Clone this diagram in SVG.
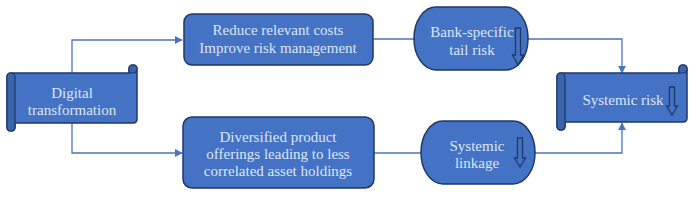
<svg xmlns="http://www.w3.org/2000/svg" width="700" height="200" viewBox="0 0 700 200">
<style>
.shape{fill:#4472C4;stroke:#203864;stroke-width:1.5;stroke-linejoin:round}
.roll{fill:#3b64ad;stroke:#203864;stroke-width:1.2}
.txt{font-family:"Liberation Serif","Times New Roman",serif;font-size:15px;fill:#dde7f4;text-anchor:middle}
.conn{fill:none;stroke:#4a74c0;stroke-width:1.3}
.darr{fill:none;stroke:#203864;stroke-width:1.3;stroke-linejoin:miter}
</style>
<defs>
<marker id="ah" viewBox="0 0 10 10" refX="9" refY="5" markerWidth="8" markerHeight="8" markerUnits="userSpaceOnUse" orient="auto">
<path d="M0,0 L10,5 L0,10 Z" fill="#4a74c0"/>
</marker>
</defs>
<rect width="700" height="200" fill="#ffffff"/>
<g id="connectors">
<path class="conn" d="M72,75 V40 H182" marker-end="url(#ah)"/>
<path class="conn" d="M72,123 V153 H182" marker-end="url(#ah)"/>
<path class="conn" d="M373,39 H414"/>
<path class="conn" d="M528,39 H622 V73" marker-end="url(#ah)"/>
<path class="conn" d="M374,153 H421"/>
<path class="conn" d="M535,153 H622 V123" marker-end="url(#ah)"/>
</g>
<g id="digital">
<path class="shape" d="M7,77 Q7,73 11,73 H129 V69 Q129,65 133,65 Q137,65 137,69 V119 Q137,123 133,123 H15 V127 Q15,131 11,131 Q7,131 7,127 Z"/>
<path class="roll" d="M7,77 Q7,73 11,73 Q15,73 15,77 V127 Q15,131 11,131 Q7,131 7,127 Z"/>
<path class="roll" d="M129,69 Q129,65 133,65 Q137,65 137,69 Q137,73 133,73 H129 Z"/>
<text class="txt" x="72" y="98">Digital</text>
<text class="txt" x="72" y="115">transformation</text>
</g>
<g id="box1">
<rect class="shape" x="184" y="14" width="189" height="51" rx="8"/>
<text class="txt" x="278" y="35">Reduce relevant costs</text>
<text class="txt" x="278" y="53">Improve risk management</text>
</g>
<g id="box2">
<rect class="shape" x="183" y="117" width="191" height="71" rx="9"/>
<text class="txt" x="278" y="142">Diversified product</text>
<text class="txt" x="278" y="159">offerings leading to less</text>
<text class="txt" x="278" y="176">correlated asset holdings</text>
</g>
<g id="bankrisk">
<rect class="shape" x="414" y="7" width="114" height="63" rx="22" ry="31"/>
<text class="txt" x="472" y="37">Bank-specific</text>
<text class="txt" x="472" y="55">tail risk</text>
<path class="darr" d="M515.5,28 H520.5 V55 H523.5 L518,65 L512.5,55 H515.5 Z"/>
</g>
<g id="linkage">
<rect class="shape" x="421" y="121" width="114" height="63" rx="22" ry="31"/>
<text class="txt" x="477" y="151">Systemic</text>
<text class="txt" x="477" y="168">linkage</text>
<path class="darr" d="M517.5,138 H522.5 V158 H525.5 L520,167 L514.5,158 H517.5 Z"/>
</g>
<g id="sysrisk">
<path class="shape" d="M557,77 Q557,73 561,73 H679 V69 Q679,65 683,65 Q687,65 687,69 V118 Q687,122 683,122 H565 V126 Q565,130 561,130 Q557,130 557,126 Z"/>
<path class="roll" d="M557,77 Q557,73 561,73 Q565,73 565,77 V126 Q565,130 561,130 Q557,130 557,126 Z"/>
<path class="roll" d="M679,69 Q679,65 683,65 Q687,65 687,69 Q687,73 683,73 H679 Z"/>
<text class="txt" x="623" y="105">Systemic risk</text>
<path class="darr" d="M669.5,87 H674.5 V106 H677.5 L672,115 L666.5,106 H669.5 Z"/>
</g>
</svg>
